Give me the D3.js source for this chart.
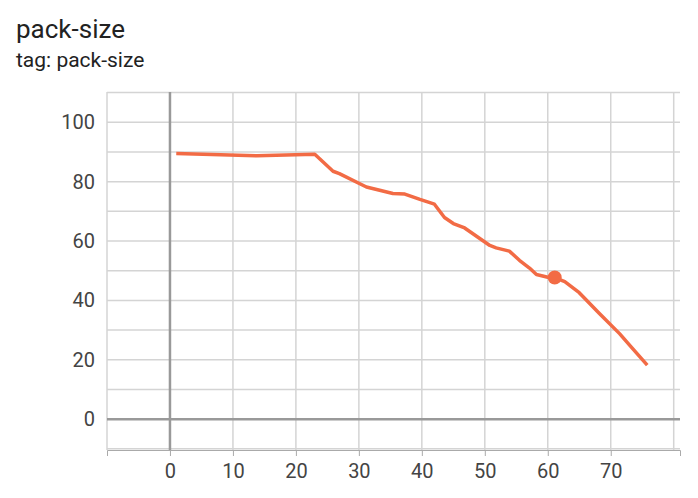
<!DOCTYPE html><html><head><meta charset="utf-8"><script src="https://cdn.jsdelivr.net/npm/d3@7"></script>
<style>body{margin:0;background:#fff;font-family:Roboto,sans-serif}</style></head><body><svg id="c" width="698" height="498"></svg>
<script>
const steps=[1,13.8,23,25.9,26.9,31.2,35.4,37.3,39.7,42,43.6,45,46.8,50.8,51.8,53.9,55.5,57.1,58.2,60,61.1,62.7,65,68.2,71.4,73.2,75.8];
const values=[89.5,88.7,89.2,83.5,82.7,78.2,76,75.8,74,72.4,67.9,65.9,64.4,58.5,57.7,56.6,53.5,50.9,48.7,47.8,47.7,46.3,42.6,35.6,28.8,24.4,18.2];
const highlight=[61.1,47.7];
const xTicks=[0,10,20,30,40,50,60,70];
const yTicks=[0,20,40,60,80,100];
const svg=d3.select("#c");
const x=d3.scaleLinear().domain([-10,81]).range([107,680]);
const y=d3.scaleLinear().domain([-10.4,110.2]).range([450,92]);
svg.append("text").attr("x",16).attr("y",38).attr("font-size",26).attr("fill","#222").text("pack-size");
svg.append("text").attr("x",16).attr("y",67).attr("font-size",21).attr("fill","#222").text("tag: pack-size");
const g=svg.append("g");
g.selectAll(".v").data(d3.range(-10,81,10)).join("line").attr("x1",d=>x(d)).attr("x2",d=>x(d)).attr("y1",92).attr("y2",450).attr("stroke","#d4d4d4").attr("stroke-width",1.5);
g.selectAll(".h").data(d3.range(-10,111,10)).join("line").attr("y1",d=>y(d)).attr("y2",d=>y(d)).attr("x1",107).attr("x2",680).attr("stroke","#d4d4d4").attr("stroke-width",1.5);
g.append("line").attr("x1",x(0)).attr("x2",x(0)).attr("y1",92).attr("y2",450).attr("stroke","#999").attr("stroke-width",2.5);
g.append("line").attr("y1",y(0)).attr("y2",y(0)).attr("x1",107).attr("x2",680).attr("stroke","#999").attr("stroke-width",2.5);
const xa=svg.append("g").attr("transform","translate(0,450)").call(d3.axisBottom(x).tickValues(xTicks).tickSize(6));
xa.select(".domain").attr("stroke","#aaa");
xa.selectAll("line").attr("stroke","#aaa");
xa.selectAll("text").attr("font-size",20).attr("fill","#444").attr("font-family","Roboto").attr("dy","0.95em");
const ya=svg.append("g").attr("transform","translate(107,0)").call(d3.axisLeft(y).tickValues(yTicks).tickSize(0).tickPadding(12));
ya.select(".domain").remove();
ya.selectAll("text").attr("font-size",20).attr("fill","#444").attr("font-family","Roboto");
const data=steps.map((s,i)=>[s,values[i]]);
svg.append("path").datum(data).attr("d",d3.line().x(d=>x(d[0])).y(d=>y(d[1]))).attr("fill","none").attr("stroke","#f26b45").attr("stroke-width",3.5).attr("stroke-linejoin","round");
svg.append("circle").attr("cx",x(highlight[0])).attr("cy",y(highlight[1])).attr("r",7).attr("fill","#f26b45");
</script></body></html>
